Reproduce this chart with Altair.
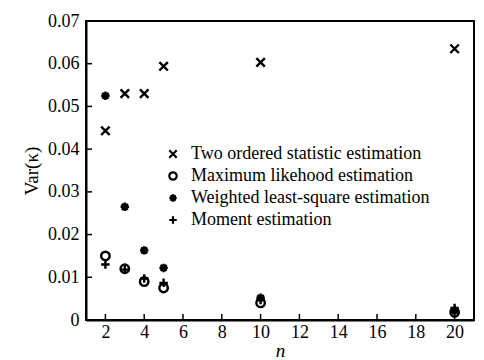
import altair as alt
import pandas as pd

n_values = [2, 3, 4, 5, 10, 20]
series_names = [
    "Two ordered statistic estimation",
    "Maximum likehood estimation",
    "Weighted least-square estimation",
    "Moment estimation",
]
two_ordered = [0.0443, 0.0530, 0.0530, 0.0594, 0.0603, 0.0635]
max_likelihood = [0.0150, 0.0120, 0.0090, 0.0075, 0.0040, 0.0018]
weighted_ls = [0.0525, 0.0265, 0.0163, 0.0122, 0.0052, 0.0022]
moment = [0.0130, 0.0118, 0.0097, 0.0087, 0.0047, 0.0028]

x_ticks = [2, 4, 6, 8, 10, 12, 14, 16, 18, 20]
y_ticks = [0, 0.01, 0.02, 0.03, 0.04, 0.05, 0.06, 0.07]

rows = []
for name, vals in zip(series_names, [two_ordered, max_likelihood, weighted_ls, moment]):
    for n, v in zip(n_values, vals):
        rows.append({"n": n, "var": v, "series": name})
df = pd.DataFrame(rows)

shapes = [
    "M-1,-1L1,1M-1,1L1,-1",
    "circle",
    "M-1,0L1,0M0,-1L0,1M-0.71,-0.71L0.71,0.71M-0.71,0.71L0.71,-0.71",
    "M-1,0L1,0M0,-1L0,1",
]

W, H = 388, 299
FONT = "Liberation Serif"

xs = alt.Scale(domain=[1, 21], nice=False, zero=False)
ys = alt.Scale(domain=[0, 0.07], nice=False)

points = alt.Chart(df).mark_point(filled=False, color="black", strokeWidth=2.4, size=72, opacity=1).encode(
    x=alt.X("n:Q", scale=xs, axis=alt.Axis(values=x_ticks, ticks=False, grid=False, labelPadding=3,
                                           labelFont=FONT, titleFont=FONT,
                                           title="n", titleFontStyle="italic", titleFontWeight="normal",
                                           titlePadding=0)),
    y=alt.Y("var:Q", scale=ys, axis=alt.Axis(values=y_ticks, ticks=False, grid=False, labelPadding=7,
                                             labelFont=FONT, titleFont=FONT,
                                             labelExpr="datum.value == 0 ? '0' : format(datum.value, '.2f')",
                                             title="Var(κ)", titleFontWeight="normal", titlePadding=6)),
    shape=alt.Shape("series:N", scale=alt.Scale(domain=series_names, range=shapes),
                    legend=alt.Legend(title=None, orient="none", legendX=78, legendY=124,
                                      labelFont=FONT)),
)

xt = pd.DataFrame({"t": x_ticks})
yt = pd.DataFrame({"t": y_ticks})
xtick_layer = alt.Chart(xt).mark_rule(color="black", strokeWidth=1.5).encode(
    x=alt.X("t:Q", scale=xs), y=alt.value(H), y2=alt.value(H - 6)
)
ytick_layer = alt.Chart(yt).mark_rule(color="black", strokeWidth=1.5).encode(
    y=alt.Y("t:Q", scale=ys), x=alt.value(0), x2=alt.value(6)
)

chart = alt.layer(xtick_layer, ytick_layer, points).properties(
    width=W, height=H, padding={"left": 14, "top": 4, "right": 2, "bottom": 2}
).configure(font=FONT).configure_view(stroke="black", strokeWidth=2).configure_axis(
    domainColor="black", domainWidth=2, labelFontSize=18,
    titleFontSize=19, labelColor="black", titleColor="black"
).configure_legend(
    labelFontSize=18, labelColor="black", symbolStrokeColor="black",
    symbolStrokeWidth=2.2, symbolSize=55, rowPadding=4, labelOffset=9, labelLimit=400
)

chart.save("out.html", embed_options={"renderer": "svg", "actions": False})
